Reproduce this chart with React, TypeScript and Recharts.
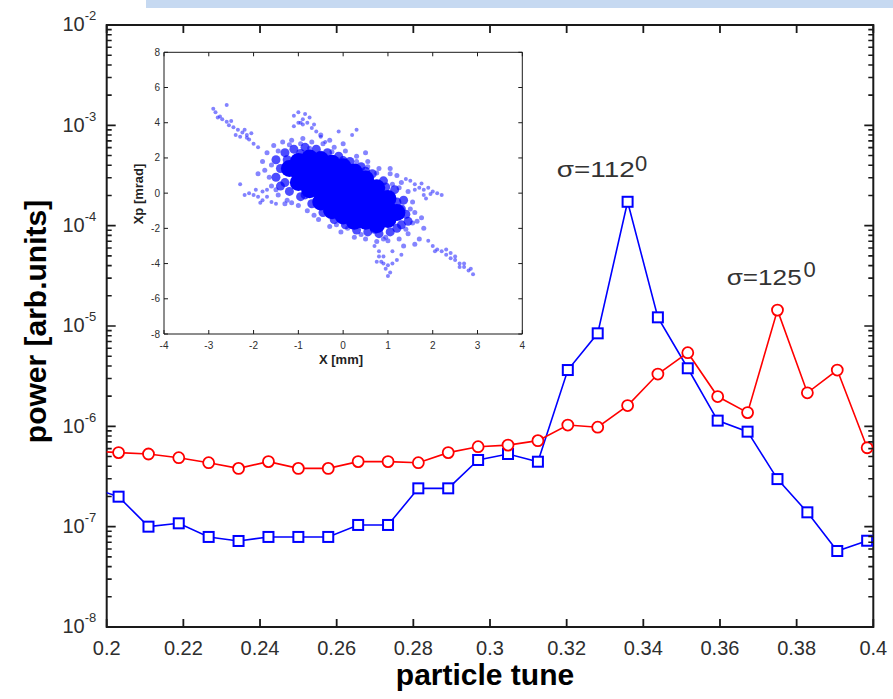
import { LineChart, Line, XAxis, YAxis, ReferenceArea, ScatterChart, Scatter } from 'recharts'

// particle tune (x) and spectral power of the two runs
const TUNE = [
  0.1953, 0.2031, 0.2109, 0.2188, 0.2266, 0.2344, 0.2422, 0.25, 0.2578, 0.2656, 0.2734, 0.2813, 0.2891, 0.2969,
  0.3047, 0.3125, 0.3203, 0.3281, 0.3359, 0.3438, 0.3516, 0.3594, 0.3672, 0.375, 0.3828, 0.3906, 0.3984,
]
const BLUE_POWER = [
  2.5e-7, 1.99e-7, 1.0e-7, 1.08e-7, 7.9e-8, 7.2e-8, 7.9e-8, 7.9e-8, 7.9e-8, 1.04e-7, 1.04e-7, 2.41e-7, 2.41e-7, 4.62e-7,
  5.3e-7, 4.44e-7, 3.64e-6, 8.45e-6, 1.73e-4, 1.22e-5, 3.79e-6, 1.14e-6, 8.85e-7, 2.98e-7, 1.39e-7, 5.72e-8, 7.24e-8,
]
const RED_POWER = [
  5.7e-7, 5.47e-7, 5.3e-7, 4.87e-7, 4.34e-7, 3.81e-7, 4.45e-7, 3.81e-7, 3.81e-7, 4.45e-7, 4.45e-7, 4.34e-7, 5.47e-7, 6.27e-7,
  6.5e-7, 7.2e-7, 1.03e-6, 9.8e-7, 1.61e-6, 3.32e-6, 5.42e-6, 1.98e-6, 1.37e-6, 1.44e-5, 2.16e-6, 3.64e-6, 6.12e-7,
]

const X_TICKS = [0.2, 0.22, 0.24, 0.26, 0.28, 0.3, 0.32, 0.34, 0.36, 0.38, 0.4]
const Y_EXPONENTS = [-8, -7, -6, -5, -4, -3, -2]
const Y_MINOR_MULT = [2, 3, 4, 5, 6, 7, 8, 9]

// inset phase space (X [mm], Xp [mrad])
const CORE: [number, number][] = [
  [-1.2, 1.4],
  [-1.0, 1.8], [-1.0, 1.2], [-1.0, 0.6],
  [-0.75, 2.0], [-0.75, 1.4], [-0.75, 0.8], [-0.75, 0.2],
  [-0.5, 1.9], [-0.5, 1.3], [-0.5, 0.7], [-0.5, 0.1], [-0.5, -0.5],
  [-0.25, 1.7], [-0.25, 1.1], [-0.25, 0.5], [-0.25, -0.1], [-0.25, -0.7], [-0.25, -1.0],
  [0.0, 1.5], [0.0, 0.9], [0.0, 0.3], [0.0, -0.3], [0.0, -0.9], [0.0, -1.3],
  [0.25, 1.2], [0.25, 0.6], [0.25, 0.0], [0.25, -0.6], [0.25, -1.2], [0.25, -1.6],
  [0.5, 0.8], [0.5, 0.2], [0.5, -0.4], [0.5, -1.0], [0.5, -1.6],
  [0.75, 0.3], [0.75, -0.3], [0.75, -0.9], [0.75, -1.5], [0.75, -1.8],
  [1.0, -0.3], [1.0, -0.9], [1.0, -1.5],
  [1.2, -1.1],
]
const RING: [number, number][] = [
  [-1.5, 1.9], [-1.3, 2.3], [-1.1, 2.5], [-0.85, 2.6], [-0.6, 2.5], [-0.35, 2.3], [-0.1, 2.1], [0.15, 1.8],
  [0.4, 1.5], [0.65, 1.1], [0.9, 0.7], [1.15, 0.2], [1.35, -0.4],
  [-1.5, 0.9], [-1.4, 0.4], [-1.2, 0.1], [-0.95, -0.2], [-0.7, -0.6], [-0.45, -1.1], [-0.2, -1.5], [0.05, -1.8],
  [0.3, -2.1], [0.55, -2.2], [0.8, -2.3], [1.05, -2.2], [1.3, -1.8], [1.4, -1.2], [1.3, -0.9], [-1.4, 1.4],
  [-1.25, 1.9], [-0.95, 2.25], [-0.5, 2.15], [0.0, 1.85], [0.5, 1.25], [0.95, 0.35], [1.2, -0.5],
  [-1.3, 0.6], [-0.85, -0.1], [-0.35, -1.0], [0.2, -1.8], [0.7, -2.05], [1.2, -2.0], [1.45, -1.6],
]
const HALO: [number, number][] = [
  [-1.7, 2.3], [-1.55, 2.7], [-1.35, 2.9], [-1.15, 3.0], [-0.9, 3.1], [-0.7, 2.9], [-0.45, 2.8], [-0.2, 2.6],
  [0.05, 2.4], [0.3, 2.1], [0.55, 1.8], [0.8, 1.4], [1.05, 1.1], [1.3, 0.6], [1.45, 0.1], [-1.8, 1.8],
  [-1.75, 1.3], [-1.6, 0.4], [-1.45, -0.1], [-1.25, -0.4], [-1.0, -0.7], [-0.8, -1.0], [-0.55, -1.5],
  [-0.3, -1.9], [-0.05, -2.2], [0.25, -2.5], [0.5, -2.6], [0.75, -2.75], [1.0, -2.7], [1.25, -2.6],
  [1.45, -2.3], [1.55, -1.7], [1.6, -1.1], [1.55, -0.5], [1.7, -2.6], [1.8, -2.0], [1.75, -1.4],
  [-1.2, 2.75], [-0.95, 2.8], [0.55, 1.5], [1.1, 0.5], [-1.65, 0.9], [0.95, -2.5], [0.1, -2.0],
  [-1.3, -0.6], [1.35, -3.0], [0.5, 2.3], [-0.5, 3.3], [1.2, 1.0], [1.6, -2.9],
  [-1.6, 1.6], [-1.45, 2.4], [-0.75, 2.55], [-0.25, 2.35], [0.3, 1.8], [0.75, 1.15], [1.25, 0.3],
  [-1.5, 0.2], [-1.15, -0.55], [-0.65, -1.25], [-0.15, -1.8], [0.4, -2.35], [0.9, -2.6], [1.4, -2.05],
  [1.5, -0.9], [1.65, -1.6], [-1.9, 1.1], [1.05, 1.4], [-0.3, 3.0], [0.0, 2.8],
]
const ARMS: [number, number][] = [
  // upper left
  [-2.9, 4.8], [-2.85, 4.6], [-2.75, 4.35], [-2.7, 4.2], [-2.6, 4.05], [-2.55, 3.85], [-2.45, 3.75], [-2.35, 3.6],
  [-2.25, 3.45], [-2.15, 3.3], [-2.1, 3.05], [-2.2, 3.6], [-2.4, 3.3], [-2.6, 5.0], [-2.0, 2.8], [-1.9, 2.6],
  [-2.3, 3.2], [-2.15, 3.15], [-2.5, 4.1], [-2.8, 4.3], [-2.05, 3.4],
  // top blob
  [-1.1, 4.4], [-1.0, 4.6], [-0.9, 4.2], [-0.8, 4.0], [-0.7, 3.7], [-0.6, 3.5], [-0.9, 3.9], [-1.0, 4.0],
  [-0.5, 3.2], [-0.4, 2.9], [-1.1, 3.8], [-0.85, 4.5], [-0.75, 4.3], [-0.95, 4.0], [-0.65, 3.9],
  [-0.1, 3.5], [0.3, 3.6], [0.2, 3.3],
  // lower left
  [-2.3, 0.5], [-2.1, 0.0], [-2.0, -0.1], [-1.9, -0.2], [-1.8, -0.4], [-1.7, -0.2], [-1.6, -0.5],
  [-1.8, 0.1], [-1.5, -0.6], [-2.2, -0.1], [-1.95, 0.2], [-1.7, 0.2], [-1.85, -0.55],
  // right
  [1.4, 0.8], [1.5, 0.7], [1.6, 0.5], [1.7, 0.3], [1.8, 0.2], [1.9, 0.3], [2.0, 0.1], [2.1, 0.0],
  [2.2, -0.1], [1.8, -0.1], [1.6, 0.2], [1.75, 0.55], [1.95, -0.05], [1.85, -0.3],
  // lower right
  [1.9, -2.7], [2.0, -3.0], [2.1, -3.2], [2.2, -3.3], [2.3, -3.5], [2.4, -3.7], [2.5, -3.8], [2.6, -4.0],
  [2.7, -4.2], [2.8, -4.4], [2.9, -4.6], [2.3, -3.2], [2.5, -3.6], [2.7, -4.0], [2.05, -3.3], [2.4, -3.4],
  [2.6, -4.2], [2.85, -4.3],
  // bottom blob
  [0.8, -3.3], [0.9, -3.6], [0.85, -3.9], [1.0, -4.1], [0.95, -4.3], [1.05, -4.5], [1.0, -4.7],
  [0.75, -3.9], [1.2, -3.8], [1.1, -3.3], [0.7, -3.0], [1.3, -3.5], [0.9, -4.0], [1.1, -4.0], [0.8, -3.6],
]
const INSET_X_TICKS = [-4, -3, -2, -1, 0, 1, 2, 3, 4]
const INSET_Y_TICKS = [-8, -6, -4, -2, 0, 2, 4, 6, 8]

const chartData = TUNE.map((t, i) => ({ tune: t, blue: BLUE_POWER[i], red: RED_POWER[i] }))
const yTicks = [
  ...Y_EXPONENTS.map(e => Math.pow(10, e)),
  ...Y_EXPONENTS.slice(0, -1).flatMap(e => Y_MINOR_MULT.map(m => m * Math.pow(10, e))),
].sort((a, b) => a - b)
const toPts = (arr: [number, number][]) => arr.map(([x, y]) => ({ x, y }))

// layout
const W = 893
const H = 699
const PLOT_LEFT = 106.7
const PLOT_RIGHT = 873.3
const PLOT_TOP = 25
const PLOT_BOTTOM = 627
const AXIS_COLOR = '#1a1a1a'
const TICK_COLOR = '#2e2e2e'

const IN_X = 120
const IN_Y = 40
const IN_W = 420
const IN_H = 340
const IN_LEFT = 44
const IN_RIGHT = 402.3
const IN_TOP = 12.3
const IN_BOTTOM = 294

// tick marks point inwards on all four sides, so they are drawn with the label
function XTick({ x, payload }: any) {
  const v = payload.value
  return (
    <g>
      <path d={`M${x},${PLOT_BOTTOM}v-8M${x},${PLOT_TOP}v8`} stroke={AXIS_COLOR} strokeWidth={1.8} fill="none" />
      <text x={x} y={655} textAnchor="middle" fontSize={20} fill={TICK_COLOR}>
        {String(Number(v.toFixed(2)))}
      </text>
    </g>
  )
}

function LogTick({ y, payload }: any) {
  const v = payload.value
  const exp = Math.round(Math.log10(v))
  const major = Math.abs(v / Math.pow(10, exp) - 1) < 1e-6
  const len = major ? 9 : 5
  return (
    <g>
      <path d={`M${PLOT_LEFT},${y}h${len}M${PLOT_RIGHT},${y}h${-len}`} stroke={AXIS_COLOR} strokeWidth={1.6} fill="none" />
      {major && (
        <text x={62.5} y={y + 6.4} fontSize={20} fill={TICK_COLOR}>
          10
          <tspan dy={-11} fontSize={13}>{exp}</tspan>
        </text>
      )}
    </g>
  )
}

function InsetXTick({ x, payload }: any) {
  return (
    <g>
      <path d={`M${x},${IN_BOTTOM}v-4M${x},${IN_TOP}v4`} stroke={AXIS_COLOR} strokeWidth={1} fill="none" />
      <text x={x} y={IN_BOTTOM + 15} textAnchor="middle" fontSize={10} fill={TICK_COLOR}>{payload.value}</text>
    </g>
  )
}

function InsetYTick({ y, payload }: any) {
  return (
    <g>
      <path d={`M${IN_LEFT},${y}h4M${IN_RIGHT},${y}h-4`} stroke={AXIS_COLOR} strokeWidth={1} fill="none" />
      <text x={IN_LEFT - 4} y={y + 3.5} textAnchor="end" fontSize={10} fill={TICK_COLOR}>{payload.value}</text>
    </g>
  )
}

const square = (p: any) => (
  <rect key={`sq${p.index}`} x={p.cx - 5} y={p.cy - 5} width={10} height={10} fill="#fff" stroke="#0000ff" strokeWidth={2} />
)
const ring = (p: any) => (
  <circle key={`ci${p.index}`} cx={p.cx} cy={p.cy} r={5.5} fill="#fff" stroke="#ff0000" strokeWidth={1.8} />
)

export default function App() {
  return (
    <div style={{ position: 'absolute', left: 0, top: 0, width: W, height: H, background: '#fff', fontFamily: '"Liberation Sans", Arial, sans-serif', overflow: 'hidden' }}>
      <div style={{ position: 'absolute', left: 146, top: 0, width: W - 146, height: 8, background: '#c6d9f1' }} />

      <div style={{ position: 'absolute', left: 0, top: 0 }}>
        <LineChart
          width={W}
          height={H}
          data={chartData}
          margin={{ top: PLOT_TOP, right: W - PLOT_RIGHT, left: PLOT_LEFT - 100, bottom: H - PLOT_BOTTOM - 60 }}
        >
          <XAxis
            dataKey="tune"
            type="number"
            domain={[0.2, 0.4]}
            allowDataOverflow
            ticks={X_TICKS}
            interval={0}
            height={60}
            axisLine={false}
            tickLine={false}
            tick={<XTick />}
          />
          <YAxis
            type="number"
            scale="log"
            domain={[1e-8, 1e-2]}
            allowDataOverflow
            ticks={yTicks}
            interval={0}
            width={100}
            axisLine={false}
            tickLine={false}
            tick={<LogTick />}
          />
          <ReferenceArea x1={0.2} x2={0.4} y1={1e-8} y2={1e-2} fill="none" stroke={AXIS_COLOR} strokeWidth={2} ifOverflow="visible" />
          <Line type="linear" dataKey="blue" stroke="#0000ff" strokeWidth={1.6} dot={square} activeDot={false} isAnimationActive={false} />
          <Line type="linear" dataKey="red" stroke="#ff0000" strokeWidth={1.6} dot={ring} activeDot={false} isAnimationActive={false} />
        </LineChart>
      </div>

      <div style={{ position: 'absolute', left: IN_X, top: IN_Y }}>
        <ScatterChart
          width={IN_W}
          height={IN_H}
          margin={{ top: IN_TOP, right: IN_W - IN_RIGHT, left: IN_LEFT - 30, bottom: IN_H - IN_BOTTOM - 30 }}
        >
          <XAxis dataKey="x" type="number" domain={[-4, 4]} ticks={INSET_X_TICKS} interval={0} height={30} axisLine={false} tickLine={false} tick={<InsetXTick />} />
          <YAxis dataKey="y" type="number" domain={[-8, 8]} ticks={INSET_Y_TICKS} interval={0} width={30} axisLine={false} tickLine={false} tick={<InsetYTick />} />
          <ReferenceArea x1={-4} x2={4} y1={-8} y2={8} fill="none" stroke={AXIS_COLOR} strokeWidth={1} ifOverflow="visible" />
          <Scatter data={toPts(ARMS)} isAnimationActive={false} shape={(p: any) => <circle cx={p.cx} cy={p.cy} r={2} fill="#3030ff" fillOpacity={0.6} />} />
          <Scatter data={toPts(HALO)} isAnimationActive={false} shape={(p: any) => <circle cx={p.cx} cy={p.cy} r={2.5} fill="#2020ff" fillOpacity={0.55} />} />
          <Scatter data={toPts(RING)} isAnimationActive={false} shape={(p: any) => <circle cx={p.cx} cy={p.cy} r={4.5} fill="#0000ff" fillOpacity={0.7} />} />
          <Scatter data={toPts(CORE)} isAnimationActive={false} shape={(p: any) => <circle cx={p.cx} cy={p.cy} r={8.5} fill="#0000ff" />} />
        </ScatterChart>
      </div>

      <svg width={W} height={H} style={{ position: 'absolute', left: 0, top: 0, pointerEvents: 'none' }}>
        <text transform="translate(45.5,321.5) rotate(-90)" textAnchor="middle" fontSize={30} fontWeight="bold" fill="#000">
          power [arb.units]
        </text>
        <text x={485} y={685} textAnchor="middle" fontSize={30} fontWeight="bold" fill="#000">particle tune</text>

        <text x={556.7} y={176.7} fontSize={22} fill="#333" textLength={78} lengthAdjust="spacingAndGlyphs">σ=112</text>
        <text x={635} y={170.5} fontSize={22} fill="#333">0</text>
        <text x={726.7} y={285} fontSize={22} fill="#333" textLength={75} lengthAdjust="spacingAndGlyphs">σ=125</text>
        <text x={803.5} y={277} fontSize={22} fill="#333">0</text>

        <text x={341} y={364} textAnchor="middle" fontSize={13} fontWeight="bold" fill="#222">X [mm]</text>
        <text transform="translate(143,194) rotate(-90)" textAnchor="middle" fontSize={13} fontWeight="bold" fill="#222">
          Xp [mrad]
        </text>
      </svg>
    </div>
  )
}
